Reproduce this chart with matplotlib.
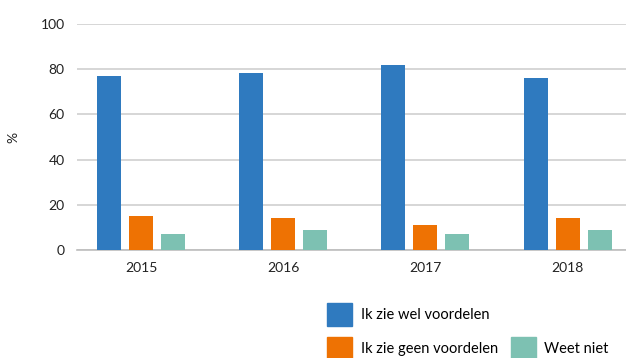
import matplotlib
matplotlib.use('Agg')
import matplotlib.pyplot as plt
import numpy as np
from matplotlib.patches import Patch

plt.rcParams['font.family'] = ['Lato', 'DejaVu Sans']

jaren = ['2015', '2016', '2017', '2018']
wel_voordelen = [77, 78.5, 82, 76]
geen_voordelen = [15, 14, 11, 14]
weet_niet = [7, 9, 7, 9]

kleuren = ['#2F7ABF', '#EE7203', '#7DC1B2']
reeksen = [wel_voordelen, geen_voordelen, weet_niet]
namen = ['Ik zie wel voordelen', 'Ik zie geen voordelen', 'Weet niet']

fig = plt.figure(figsize=(6.26, 3.58), dpi=100)
ax = fig.add_axes([77 / 626, 1 - 250 / 358, (626 - 77) / 626, 226 / 358])

x = np.arange(len(jaren))
breedte = 0.169
stap = 0.225
for i, (waarden, kleur) in enumerate(zip(reeksen, kleuren)):
    ax.bar(x + (i - 1) * stap, waarden, width=breedte, color=kleur, zorder=3)

ax.set_ylim(0, 100)
ax.set_xlim(-0.45, 3.41)
ax.set_yticks(range(0, 101, 20))
ax.set_xticks(x)
ax.set_xticklabels(jaren)
ax.grid(axis='y', color='#CFCFCF', linewidth=1.2, zorder=0)
for s in ['top', 'right', 'left']:
    ax.spines[s].set_visible(False)
ax.spines['bottom'].set_color('#BDBDBD')
ax.spines['bottom'].set_linewidth(1.2)
ax.tick_params(axis='both', length=0, labelsize=10, colors='#222222')
ax.tick_params(axis='y', pad=9)
ax.tick_params(axis='x', pad=9)
ax.set_ylabel('%', fontsize=10, color='#222222')
ax.yaxis.set_label_coords(-0.105, 0.5)

handles = [Patch(color=kleuren[0]), Patch(color=kleuren[1]),
           Patch(color='none'), Patch(color=kleuren[2])]
labels = [namen[0], namen[1], '', namen[2]]
fig.legend(handles, labels, ncol=2, loc='upper left',
           bbox_to_anchor=(314 / 626, 1 - 290 / 358), frameon=False,
           fontsize=10.5, handlelength=1.7, handleheight=2.0,
           handletextpad=0.6, columnspacing=0.9, labelspacing=0.8)

fig.savefig('out.png', dpi=100)
